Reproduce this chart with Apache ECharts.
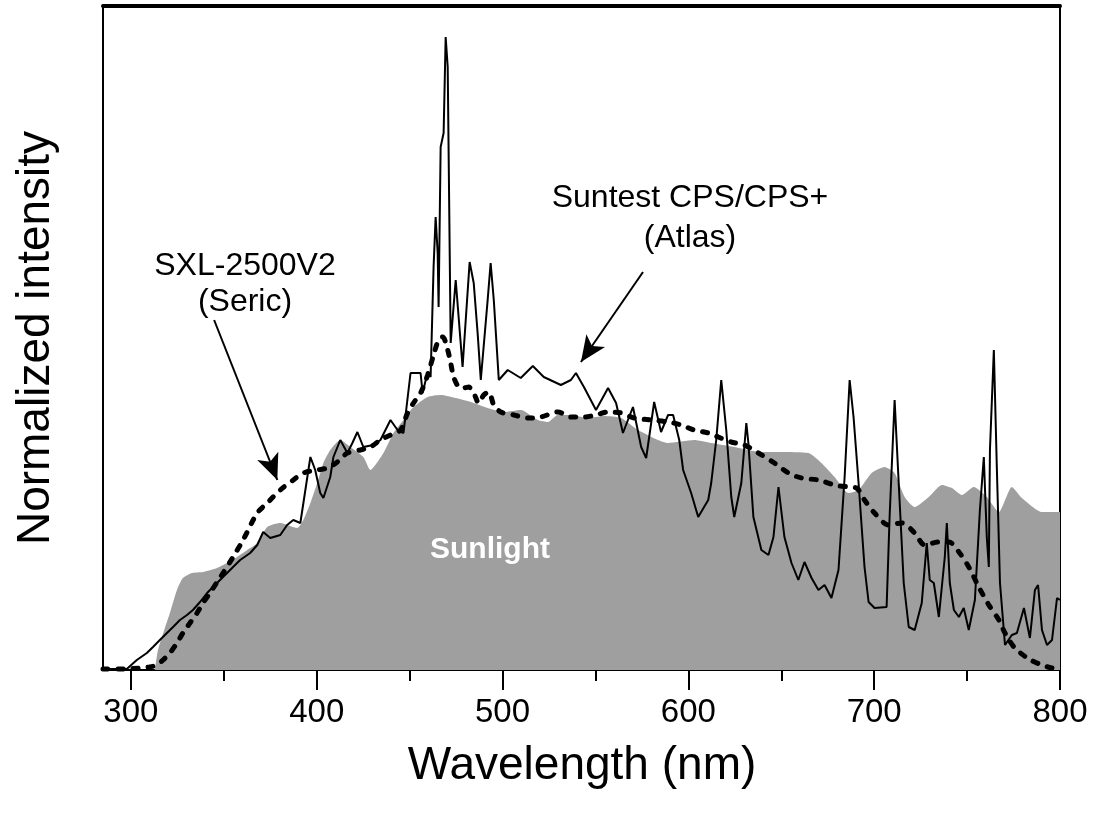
<!DOCTYPE html>
<html><head><meta charset="utf-8">
<script src="https://cdn.jsdelivr.net/npm/echarts@6/dist/echarts.min.js"></script>
<style>html,body{margin:0;padding:0;background:#fff}#c{width:1096px;height:816px}</style>
</head><body><div id="c"></div>
<script>
// x: wavelength (nm), y: normalized intensity (arbitrary units, plot top = 664)
const majorTicks = [300, 400, 500, 600, 700, 800];
const minorTicks = [350, 450, 550, 650, 750];

// Sunlight (grey filled area)
const sunlight = [[312.9,0],[314.6,20],[318.3,42],[321.0,57],[324.8,80],[328.0,92],[332.9,97],[338.8,98],[346.4,102],[351.8,107],[357.2,113],[362.6,120],[368.0,127],[373.4,143],[380.4,147],[389.5,142],[392.8,150],[396.6,167],[400.3,187],[403.6,207],[407.3,220],[412.7,230],[418.1,223],[425.1,213],[428.9,200],[435.9,217],[441.3,237],[446.7,250],[452.1,263],[459.7,273],[466.7,275],[474.8,272],[482.9,268],[492.0,262],[500.7,258],[509.8,260],[519.0,250],[524.4,248],[529.8,255],[536.8,255],[546.0,252],[554.6,254],[563.8,252],[572.9,240],[589.1,227],[603.1,230],[612.3,227],[624.7,223],[639.3,218],[650.1,218],[664.6,217],[671.6,207],[678.7,193],[686.2,177],[691.6,180],[698.6,197],[705.6,203],[711.0,197],[716.4,173],[721.8,163],[729.4,173],[736.4,185],[741.8,182],[747.2,175],[753.6,183],[760.6,173],[767.1,158],[774.1,183],[779.5,172],[790.3,158],[800,158]];

// Suntest CPS/CPS+ (Atlas) – thin solid line
const suntest = [[285,1],[297.8,1],[303.2,10],[308.6,17],[311.9,23],[315.6,30],[319.4,37],[322.7,43],[326.4,50],[330.2,55],[333.4,60],[337.2,68],[341.0,77],[344.2,83],[349.6,93],[355.0,103],[358.8,110],[364.2,117],[368.0,125],[371.2,138],[375.0,132],[380.4,135],[384.1,145],[387.4,150],[391.2,147],[393.9,180],[396.6,213],[399.2,200],[401.9,177],[403.6,172],[407.3,193],[409.0,213],[412.7,230],[416.5,217],[419.2,227],[421.9,238],[425.1,223],[430.5,225],[434.3,230],[439.7,250],[443.5,240],[446.7,237],[450.5,297],[455.9,297],[457.0,277],[459.7,298],[461.3,293],[462.9,403],[464.0,453],[465.1,417],[465.6,363],[466.7,523],[468.3,537],[469.4,633],[470.5,603],[472.1,327],[474.8,390],[478.5,303],[482.3,408],[484.5,387],[486.6,337],[488.3,290],[492.0,370],[493.6,407],[495.3,370],[498.0,290],[502.8,300],[509.8,292],[516.3,304],[522.2,293],[531.4,285],[536.8,290],[539.5,297],[543.8,283],[550.3,260],[556.8,282],[561.1,267],[564.8,237],[570.2,263],[574.6,223],[577.3,212],[580.0,247],[581.6,268],[585.3,238],[589.1,255],[591.8,255],[595.1,230],[597.2,200],[601.5,177],[605.3,153],[610.7,170],[612.3,187],[615.0,230],[617.7,290],[620.4,240],[623.1,173],[624.7,153],[628.5,187],[631.2,247],[632.3,227],[635.0,153],[639.3,120],[643.1,115],[645.8,133],[648.5,183],[651.7,133],[655.5,107],[659.2,90],[662.5,108],[666.3,92],[670.0,80],[673.3,85],[677.0,72],[680.8,100],[684.1,193],[686.8,290],[688.9,253],[691.6,187],[694.8,103],[697.0,68],[700.2,62],[706.7,63],[708.3,153],[711.0,270],[713.2,187],[715.9,87],[718.6,43],[721.8,40],[725.6,67],[728.3,127],[729.9,90],[732.1,87],[734.8,53],[738.0,113],[739.1,147],[740.7,87],[742.9,60],[745.6,53],[748.2,62],[750.9,40],[754.2,70],[756.9,160],[759.0,213],[760.6,133],[761.7,103],[762.3,220],[764.4,320],[766.0,203],[767.7,87],[770.4,25],[774.1,35],[776.8,37],[780.6,62],[783.8,32],[786.5,80],[788.2,85],[790.3,40],[793.0,25],[795.7,30],[798.4,72],[800,70]];

// SXL-2500V2 (Seric) – thick dashed line
const sxl = [[285,1],[296.8,1],[304.9,2],[310.2,3],[314.0,5],[317.3,10],[321.0,17],[324.8,27],[328.0,37],[331.8,47],[335.6,57],[338.8,67],[342.6,77],[346.4,88],[349.6,97],[355.0,113],[360.4,130],[368.0,157],[373.4,167],[380.4,180],[387.4,190],[392.8,197],[400.3,200],[405.7,202],[411.1,208],[416.5,217],[423.5,220],[428.9,223],[434.3,230],[439.7,235],[445.1,240],[448.9,257],[452.1,267],[455.9,277],[459.7,295],[462.9,315],[465.6,330],[467.8,333],[470.5,320],[472.1,307],[473.7,293],[476.4,283],[479.1,282],[481.8,283],[484.5,277],[487.2,267],[489.9,275],[492.6,278],[495.3,265],[499.0,258],[506.1,255],[513.6,252],[520.6,253],[529.8,258],[536.8,253],[543.8,253],[550.3,255],[556.8,258],[563.8,257],[570.8,252],[580.0,250],[589.1,248],[596.1,245],[603.1,240],[610.7,237],[616.1,233],[623.1,228],[630.1,225],[637.7,217],[646.3,207],[653.9,197],[660.9,192],[670.0,190],[678.7,185],[686.2,183],[690.5,182],[694.8,170],[700.2,157],[707.8,145],[714.8,147],[721.8,137],[727.2,125],[734.8,128],[740.2,128],[745.6,118],[750.9,103],[756.3,83],[761.7,65],[767.1,50],[770.4,37],[775.7,22],[783.3,11],[790.3,5],[795.7,2],[800,1]];

// annotation arrows (start -> tip), in data coordinates
const sxlArrow = [[344.8, 350], [378.8, 190]];
const suntestArrow = [[575.6, 398], [542.2, 308]];

const FONT = 'Liberation Sans, Arial, Helvetica, sans-serif';
const chart = echarts.init(document.getElementById('c'), null, {renderer: 'canvas'});
const axisBase = {type: 'value', min: 285, max: 800, splitLine: {show: false}};
chart.setOption({
  animation: false,
  backgroundColor: '#fff',
  grid: {left: 103, right: 36, top: 6, bottom: 146, containLabel: false},
  xAxis: [
    Object.assign({}, axisBase, {
      position: 'bottom',
      axisLine: {show: true, onZero: false, lineStyle: {color: '#000', width: 2}},
      axisTick: {show: true, inside: false, length: 20, customValues: majorTicks, lineStyle: {color: '#000', width: 2}},
      axisLabel: {show: true, customValues: majorTicks, fontSize: 33, color: '#000', margin: 26, fontFamily: FONT}
    }),
    Object.assign({}, axisBase, {
      position: 'bottom',
      axisLine: {show: false},
      axisTick: {show: true, inside: false, length: 11, customValues: minorTicks, lineStyle: {color: '#000', width: 2}},
      axisLabel: {show: false}
    }),
    Object.assign({}, axisBase, {
      position: 'top',
      axisLine: {show: true, onZero: false, lineStyle: {color: '#000', width: 4}},
      axisTick: {show: false},
      axisLabel: {show: false}
    })
  ],
  yAxis: [
    {type: 'value', min: 0, max: 664, position: 'left', splitLine: {show: false},
     axisLine: {show: true, onZero: false, lineStyle: {color: '#000', width: 2}}, axisTick: {show: false}, axisLabel: {show: false}},
    {type: 'value', min: 0, max: 664, position: 'right', splitLine: {show: false},
     axisLine: {show: true, onZero: false, lineStyle: {color: '#000', width: 2}}, axisTick: {show: false}, axisLabel: {show: false}}
  ],
  series: [
    {
      name: 'Sunlight', type: 'line', data: sunlight, showSymbol: false, smooth: 0.2, z: 1,
      lineStyle: {width: 0}, areaStyle: {color: '#9f9f9f', opacity: 1}, itemStyle: {color: '#9f9f9f'},
      markLine: {
        silent: true, symbol: ['none', 'arrow'], symbolSize: [17, 26], label: {show: false}, z: 10,
        lineStyle: {color: '#000', width: 2, type: 'solid'},
        data: [
          [{coord: sxlArrow[0]}, {coord: sxlArrow[1]}],
          [{coord: suntestArrow[0]}, {coord: suntestArrow[1]}]
        ]
      }
    },
    {
      name: 'SXL-2500V2 (Seric)', type: 'line', data: sxl, showSymbol: false, smooth: 0.3, z: 3,
      lineStyle: {color: '#000', width: 5, type: [5, 10], cap: 'round'}
    },
    {
      name: 'Suntest CPS/CPS+ (Atlas)', type: 'line', data: suntest, showSymbol: false, z: 4,
      lineStyle: {color: '#000', width: 2}
    }
  ],
  graphic: [
    {type: 'text', x: 36, y: 338, rotation: Math.PI / 2, z: 20,
     style: {text: 'Normalized intensity', font: '46px ' + FONT, fill: '#000', align: 'center', verticalAlign: 'middle'}},
    {type: 'text', x: 582, y: 766, z: 20,
     style: {text: 'Wavelength (nm)', font: '46px ' + FONT, fill: '#000', align: 'center', verticalAlign: 'middle'}},
    {type: 'text', x: 245, y: 266, z: 20,
     style: {text: 'SXL-2500V2', font: '32px ' + FONT, fill: '#000', align: 'center', verticalAlign: 'middle'}},
    {type: 'text', x: 245, y: 302, z: 20,
     style: {text: '(Seric)', font: '32px ' + FONT, fill: '#000', align: 'center', verticalAlign: 'middle'}},
    {type: 'text', x: 690, y: 198, z: 20,
     style: {text: 'Suntest CPS/CPS+', font: '32px ' + FONT, fill: '#000', align: 'center', verticalAlign: 'middle'}},
    {type: 'text', x: 690, y: 238, z: 20,
     style: {text: '(Atlas)', font: '32px ' + FONT, fill: '#000', align: 'center', verticalAlign: 'middle'}},
    {type: 'text', x: 490, y: 550, z: 20,
     style: {text: 'Sunlight', font: 'bold 30px ' + FONT, fill: '#fff', align: 'center', verticalAlign: 'middle'}}
  ]
});
</script>
</body></html>
